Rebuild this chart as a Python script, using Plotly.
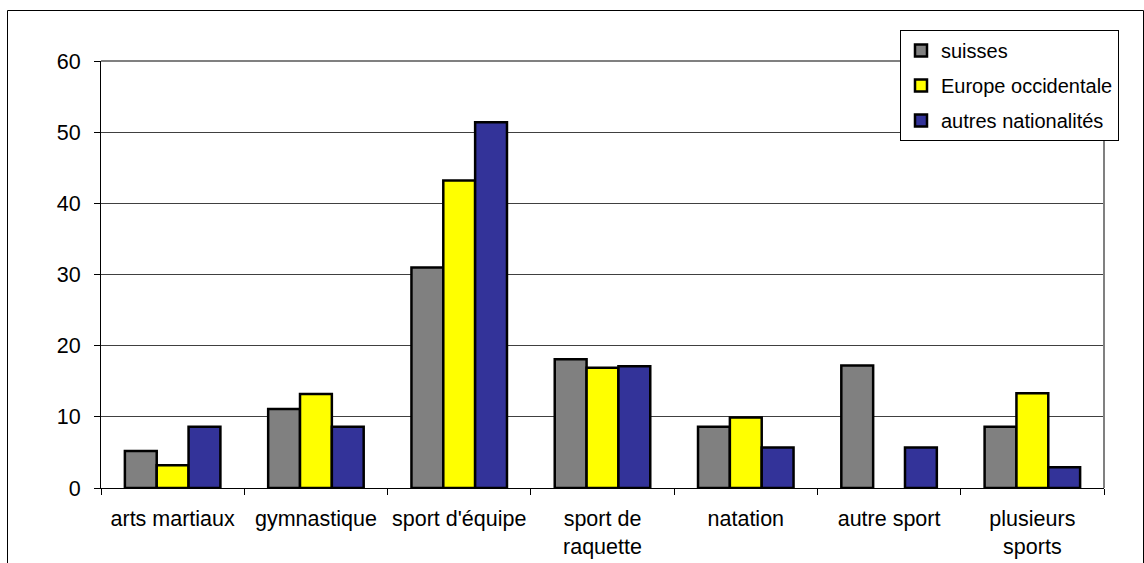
import plotly.graph_objects as go

categories = ["arts martiaux", "gymnastique", "sport d'équipe", "sport de<br>raquette",
              "natation", "autre sport", "plusieurs<br>sports"]
suisses = [5.2, 11.1, 31.0, 18.1, 8.6, 17.2, 8.6]
europe_occidentale = [3.2, 13.2, 43.2, 16.9, 9.9, None, 13.3]
autres_nationalites = [8.6, 8.6, 51.4, 17.1, 5.7, 5.7, 2.9]

series = [
    ("suisses", suisses, "#808080"),
    ("Europe occidentale", europe_occidentale, "#FFFF00"),
    ("autres nationalités", autres_nationalites, "#333399"),
]

W, H = 1144, 563
L, R, T, B = 101, 40, 61, 75
pw, ph = W - L - R, H - T - B

fig = go.Figure()
for i, (name, vals, col) in enumerate(series):
    fig.add_trace(go.Bar(
        x=categories, y=vals, name=name, legendgroup=f"g{i}",
        marker=dict(color=col, line=dict(color="black", width=2.5)),
    ))

font = "Liberation Sans, Arial, sans-serif"
fig.update_layout(
    width=W, height=H,
    margin=dict(l=L, r=R, t=T, b=B, pad=0, autoexpand=False),
    paper_bgcolor="white", plot_bgcolor="white",
    barmode="group", bargap=1/3, bargroupgap=0,
    font=dict(family=font, size=21.5, color="black"),
    showlegend=True,
    legend=dict(
        x=(900 - L) / pw, y=(H - B - 30) / ph, xanchor="left", yanchor="top",
        bgcolor="white", bordercolor="black", borderwidth=1,
        font=dict(family=font, size=20, color="black"),
        tracegroupgap=6, itemwidth=30,
    ),
    xaxis=dict(
        showline=True, linecolor="black", linewidth=1, automargin=False,
        ticks="outside", ticklen=6, tickcolor="black", tickson="boundaries",
        tickangle=0,
        showgrid=False, tickfont=dict(size=21.5), ticklabelstandoff=11,
    ),
    yaxis=dict(
        range=[0, 60], dtick=10, showline=True, linecolor="black", linewidth=1,
        automargin=False,
        ticks="outside", ticklen=6, tickcolor="black",
        showgrid=True, gridcolor="#404040", gridwidth=1,
        zeroline=False, tickfont=dict(size=21.5), ticklabelstandoff=9,
    ),
    shapes=[
        # gray frame along the top and right of the plotting area
        dict(type="line", xref="paper", yref="paper", x0=0, x1=1, y0=1, y1=1,
             line=dict(color="#808080", width=2)),
        dict(type="line", xref="paper", yref="paper", x0=1, x1=1, y0=0, y1=1,
             line=dict(color="#808080", width=2)),
        # outer chart frame
        dict(type="rect", xref="paper", yref="paper",
             x0=(7.5 - L) / pw, x1=(W - 0.5 - L) / pw,
             y0=-0.3, y1=(H - B - 10.5) / ph,
             line=dict(color="black", width=1), layer="below"),
    ],
)

fig.write_html("out.html")
